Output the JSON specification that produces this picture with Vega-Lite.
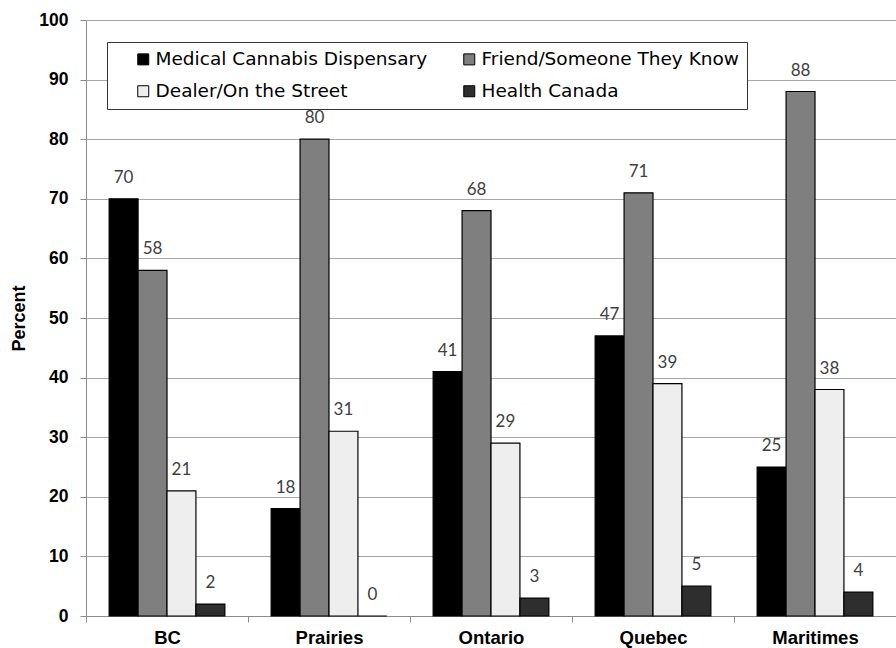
{
  "$schema": "https://vega.github.io/schema/vega-lite/v6.json",
  "width": 810,
  "height": 596,
  "autosize": {"type": "none"},
  "padding": {"left": 86, "top": 20, "right": 0, "bottom": 32},
  "background": "white",
  "data": {
    "values": [
      {"region": "BC", "source": "Medical Cannabis Dispensary", "percent": 70},
      {"region": "BC", "source": "Friend/Someone They Know", "percent": 58},
      {"region": "BC", "source": "Dealer/On the Street", "percent": 21},
      {"region": "BC", "source": "Health Canada", "percent": 2},
      {"region": "Prairies", "source": "Medical Cannabis Dispensary", "percent": 18},
      {"region": "Prairies", "source": "Friend/Someone They Know", "percent": 80},
      {"region": "Prairies", "source": "Dealer/On the Street", "percent": 31},
      {"region": "Prairies", "source": "Health Canada", "percent": 0},
      {"region": "Ontario", "source": "Medical Cannabis Dispensary", "percent": 41},
      {"region": "Ontario", "source": "Friend/Someone They Know", "percent": 68},
      {"region": "Ontario", "source": "Dealer/On the Street", "percent": 29},
      {"region": "Ontario", "source": "Health Canada", "percent": 3},
      {"region": "Quebec", "source": "Medical Cannabis Dispensary", "percent": 47},
      {"region": "Quebec", "source": "Friend/Someone They Know", "percent": 71},
      {"region": "Quebec", "source": "Dealer/On the Street", "percent": 39},
      {"region": "Quebec", "source": "Health Canada", "percent": 5},
      {"region": "Maritimes", "source": "Medical Cannabis Dispensary", "percent": 25},
      {"region": "Maritimes", "source": "Friend/Someone They Know", "percent": 88},
      {"region": "Maritimes", "source": "Dealer/On the Street", "percent": 38},
      {"region": "Maritimes", "source": "Health Canada", "percent": 4}
    ]
  },
  "encoding": {
    "x": {
      "field": "region",
      "type": "nominal",
      "sort": ["BC", "Prairies", "Ontario", "Quebec", "Maritimes"],
      "scale": {"paddingInner": 0, "paddingOuter": 0},
      "axis": {
        "title": null,
        "labelAngle": 0,
        "tickBand": "extent",
        "tickSize": 6,
        "tickColor": "#8c8c8c",
        "domainColor": "#8c8c8c",
        "labelFont": "Liberation Sans",
        "labelFontWeight": "bold",
        "labelFontSize": 18.5,
        "labelColor": "black",
        "labelPadding": 6,
        "grid": false
      }
    },
    "xOffset": {
      "field": "source",
      "type": "nominal",
      "sort": ["Medical Cannabis Dispensary", "Friend/Someone They Know", "Dealer/On the Street", "Health Canada"],
      "scale": {"paddingInner": 0, "paddingOuter": 0.8}
    },
    "y": {
      "field": "percent",
      "type": "quantitative",
      "scale": {"domain": [0, 100]},
      "axis": {
        "title": "Percent",
        "titleFont": "Liberation Sans",
        "titleFontWeight": "bold",
        "titleFontSize": 18,
        "titleColor": "black",
        "titlePadding": 10,
        "values": [0, 10, 20, 30, 40, 50, 60, 70, 80, 90, 100],
        "labelFont": "Liberation Sans",
        "labelFontWeight": "bold",
        "labelFontSize": 17.5,
        "labelColor": "black",
        "labelPadding": 12,
        "tickSize": 6,
        "tickColor": "#8c8c8c",
        "domainColor": "#8c8c8c",
        "gridColor": "#a6a6a6",
        "gridWidth": 1.2
      }
    }
  },
  "layer": [
    {
      "mark": {"type": "bar", "stroke": "black", "strokeWidth": 1.2},
      "encoding": {
        "fill": {
          "field": "source",
          "type": "nominal",
          "sort": ["Medical Cannabis Dispensary", "Friend/Someone They Know", "Dealer/On the Street", "Health Canada"],
          "scale": {
            "domain": ["Medical Cannabis Dispensary", "Friend/Someone They Know", "Dealer/On the Street", "Health Canada"],
            "range": ["#000000", "#7f7f7f", "#eeeeee", "#2e2e2e"]
          },
          "legend": {
            "title": null,
            "orient": "none",
            "legendX": 21,
            "legendY": 22,
            "direction": "horizontal",
            "columns": 2,
            "columnPadding": 13,
            "rowPadding": 13,
            "padding": 8,
            "strokeColor": "#333333",
            "fillColor": "white",
            "symbolType": "square",
            "symbolSize": 121,
            "symbolStrokeColor": "black",
            "symbolStrokeWidth": 1,
            "symbolOffset": 19,
            "labelFont": "DejaVu Sans",
            "labelFontSize": 18.5,
            "labelColor": "black",
            "labelOffset": 3,
            "labelLimit": 400
          }
        }
      }
    },
    {
      "mark": {"type": "text", "dy": -12, "font": "Lato", "fontSize": 17, "color": "#404040", "baseline": "bottom"},
      "encoding": {
        "text": {"field": "percent", "type": "quantitative"}
      }
    }
  ],
  "config": {
    "view": {"stroke": null}
  }
}
